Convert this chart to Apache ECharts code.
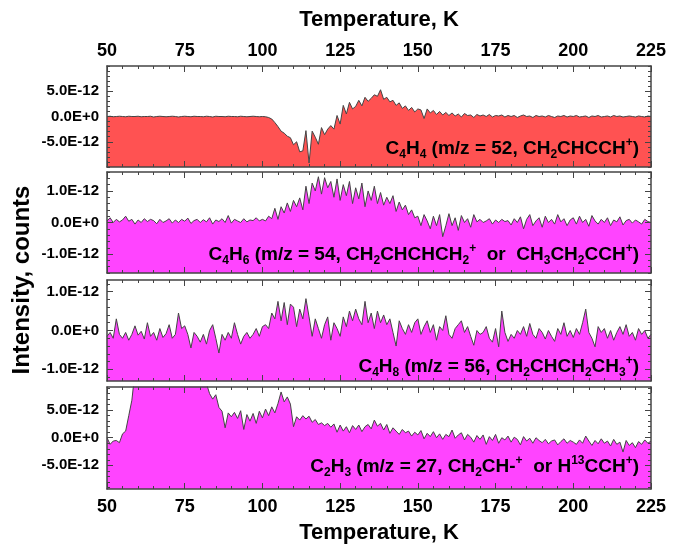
<!DOCTYPE html>
<html>
<head>
<meta charset="utf-8">
<script src="https://cdn.jsdelivr.net/npm/echarts@6/dist/echarts.min.js"></script>
<style>
  html, body { margin: 0; padding: 0; background: #fff; }
  #chart { width: 681px; height: 546px; }
</style>
</head>
<body>
<div id="chart"></div>
<script>
// temperature grid, K (one reading per kelvin)
const tStart = 50
const tStep = 1

// intensities in units of 1E-12 counts, one value per kelvin from 50 K
const c4h4 = [
  0.0, 0.05, -0.05, 0.0, 0.05, 0.0, -0.05, 0.05, 0.0, 0.0,
  0.05, -0.05, 0.0, 0.0, 0.05, -0.1, 0.0, 0.05, 0.0, -0.05,
  0.0, 0.05, 0.0, -0.1, 0.0, 0.05, 0.0, -0.05, 0.05, 0.0,
  0.0, -0.05, 0.05, 0.0, -0.1, 0.05, 0.0, 0.0, -0.05, 0.05,
  0.0, 0.0, -0.05, 0.05, 0.0, -0.05, 0.0, 0.05, 0.0, -0.05,
  0.0, -0.05, -0.2, -0.5, -1.2, -2.0, -2.9, -3.3, -3.9, -4.2,
  -5.6, -5.0, -7.0, -6.8, -2.8, -9.2, -2.9, -4.1, -5.5, -2.2,
  -3.6, -2.5, -1.8, -2.5, 0.2, -1.5, 2.2, 0.5, 2.8, 1.5,
  2.0, 3.2, 2.1, 3.8, 3.0, 3.6, 4.3, 4.0, 5.3, 3.4,
  3.8, 2.9, 3.2, 2.2, 2.7, 1.6, 2.1, 1.2, 1.8, 0.9,
  1.5, 1.3, -0.4, 1.5, 0.7, 1.2, 0.4, 1.0, 0.3, 0.8,
  0.2, 0.7, 0.1, 0.5, -0.1, 0.6, 0.2, 0.3, -0.2, 0.4,
  0.1, 0.3, 0.0, 0.4, -0.1, 0.2, 0.1, 0.3, -0.1, 0.2,
  0.0, 0.2, -0.2, 0.1, 0.3, 0.0, 0.1, -0.2, 0.2, 0.0,
  0.1, -0.1, 0.2, 0.0, -0.2, 0.1, 0.0, 0.2, -0.1, 0.1,
  0.0, 0.2, -0.1, 0.0, 0.1, -0.2, 0.1, 0.0, 0.2, -0.1,
  0.0, 0.1, -0.1, 0.2, 0.0, 0.1, -0.1, 0.0, 0.1, 0.0,
  -0.1, 0.1, 0.0, -0.1, 0.1, 0.0
]
const c4h6 = [
  0.05, 0.15, 0.0, 0.1, 0.02, 0.08, 0.2, 0.04, 0.1, -0.05,
  0.08, 0.0, 0.12, 0.03, 0.1, 0.06, -0.04, 0.1, 0.0, 0.05,
  0.12, -0.02, 0.08, 0.0, 0.1, 0.04, 0.14, -0.03, 0.06, 0.1,
  0.0, 0.09, 0.02, 0.15, -0.05, 0.08, 0.03, 0.12, 0.0, 0.22,
  -0.02, 0.1, 0.05, 0.0, 0.12, 0.02, 0.08, 0.06, 0.15, 0.05,
  0.1, 0.05, 0.2, 0.12, 0.45, 0.1, 0.5, 0.3, 0.62, 0.35,
  0.7, 0.5, 0.78, 0.4, 1.15, 0.6, 1.25, 1.0, 1.45, 0.9,
  1.42, 1.1, 1.3, 0.8, 1.38, 0.7, 1.2, 0.85, 1.3, 0.6,
  1.1, 0.75, 1.25, 0.5, 1.0, 0.7, 1.15, 0.6, 0.95, 0.55,
  0.8, 0.6, 0.85, 0.35, 0.65, 0.4, 0.55, 0.25, 0.4, 0.15,
  0.2, -0.1, 0.25, 0.05, -0.2, 0.2, -0.1, 0.25, -0.45, -0.1,
  0.28, -0.1, 0.15, -0.25, 0.22, 0.0, 0.12, -0.15, 0.25, 0.02,
  0.1, 0.0, 0.05, 0.12, -0.05, 0.08, 0.0, 0.1, 0.03, 0.06,
  -0.08, 0.12, 0.0, 0.18, -0.2, 0.1, 0.25, -0.1, 0.05, 0.15,
  -0.15, 0.2, 0.0, 0.1, -0.05, 0.25, 0.02, 0.12, -0.1, 0.08,
  0.15, -0.05, 0.2, 0.0, 0.1, -0.12, 0.22, 0.05, -0.05, 0.1,
  0.0, 0.15, -0.1, 0.08, 0.02, 0.18, -0.08, 0.06, 0.1, -0.02,
  0.08, 0.02, -0.05, 0.1, 0.03, 0.0
]
const c4h8 = [
  -0.15, -0.05, -0.2, 0.3, -0.1, -0.2, -0.05, -0.25, -0.1, 0.12,
  -0.12, -0.02, -0.22, 0.2, -0.15, -0.05, -0.25, 0.05, -0.18, -0.08,
  0.15, -0.2, -0.1, 0.45, 0.05, 0.12, -0.1, -0.45, -0.05, -0.15,
  -0.3, -0.1, -0.35, 0.0, 0.15, -0.2, -0.58, -0.1, -0.25, -0.05,
  -0.2, 0.2, -0.1, -0.35, -0.15, -0.05, -0.2, -0.1, 0.05, -0.15,
  0.1, 0.15, 0.05, 0.45, 0.3, 0.75, 0.25, 0.72, 0.15, 0.68,
  0.6, 0.1, 0.55, 0.3, 0.82, 0.35, -0.15, 0.3, 0.05, -0.2,
  0.15, 0.35, -0.25, 0.2, 0.05, -0.15, 0.35, 0.1, 0.5, 0.25,
  0.55, 0.3, 0.15, 0.75, 0.2, 0.45, 0.05, 0.5, 0.2, 0.4,
  0.15, 0.3, -0.05, -0.4, 0.25, 0.05, -0.1, 0.15, -0.05, 0.2,
  0.3, -0.1, 0.1, 0.25, -0.05, 0.15, -0.25, 0.1, 0.0, 0.38,
  -0.1, -0.2, 0.05, 0.15, 0.25, -0.05, 0.1, -0.15, -0.38, 0.0,
  -0.1, -0.05, 0.1, -0.2, -0.3, 0.05, -0.42, 0.5, -0.05, -0.28,
  -0.1, -0.2, 0.0, -0.1, 0.1, -0.15, 0.18, -0.1, -0.2, 0.05,
  -0.05, -0.22, 0.0, -0.15, -0.28, 0.05, -0.1, 0.2, -0.15, 0.0,
  -0.18, 0.05, -0.1, 0.2, 0.55, -0.05, -0.2, -0.42, 0.1, -0.05,
  0.05, -0.2, 0.0, -0.25, -0.05, 0.1, -0.1, 0.15, -0.15, -0.05,
  -0.25, 0.05, -0.1, 0.0, -0.2, -0.1
]
const c2h3 = [
  0.0, -1.2, -0.6, -0.5, -0.9, 0.7, 1.2, 4.0, 6.8, 12.0,
  13.0, 13.5, 14.0, 14.2, 14.5, 14.6, 14.5, 14.3, 14.0, 13.8,
  13.5, 13.3, 13.0, 12.8, 12.5, 12.2, 12.0, 11.6, 11.2, 10.8,
  10.5, 10.2, 9.8, 8.0, 7.0, 7.8, 5.5, 4.8, 1.8, 4.5,
  3.8, 4.6, 3.5, 4.9, 1.5, 4.2, 3.0, 4.4, 2.6, 4.8,
  3.6, 5.2, 4.0, 5.6, 4.5, 6.2, 8.3, 6.5, 7.4, 6.1,
  2.0, 3.8, 3.2, 4.0, 3.4, 3.9, 2.8, 3.3, 2.4, 2.7,
  2.2, 2.6, 1.9, 2.5, 1.0, 2.3, 1.2, 2.0, 0.9, 2.2,
  1.5, 2.3, 1.1, 2.0, 2.4, 1.6, 3.2, 2.1, 2.6, 1.4,
  2.4, 0.8, 1.8, 1.2, 0.6, 1.5, 0.9, 1.2, 0.3, 1.0,
  0.5, 1.3, -0.2, 0.8, 0.2, 1.1, 0.0, 0.7, -0.3, 0.6,
  0.2, 1.4, -0.1, 0.5, 0.9, -0.4, 0.6, 0.1, -0.8, 0.4,
  -0.3, 0.5, -1.2, 0.2, -0.5, 0.6, -1.0, 0.0, -0.4, 0.3,
  -0.8, 0.1, -0.3, -1.3, 0.2, -0.6, -0.1, -1.0, 0.0, -0.5,
  -0.9, -0.3, -1.1, -0.6, -0.4, -1.3, -0.7, -0.2, -1.0, -0.5,
  -0.8, -1.2, -0.4, -1.0, 0.3, -0.6, -1.4, -0.5, -1.1, -0.2,
  -1.0, -0.6, -1.5, -0.3, -1.2, -0.8, -2.6, -0.5, -1.4, -0.9,
  -1.8, -0.7, -1.2, -0.4, -1.0, -0.6
]

const panelData = [c4h4, c4h6, c4h8, c2h3]
const yMin = [-10, -1.6, -1.3, -9.3]
const yMax = [10, 1.6, 1.3, 9.2]
const yMajor = [[-5, 0, 5], [-1, 0, 1], [-1, 0, 1], [-5, 0, 5]]
const yMinorStep = [1, 0.2, 0.2, 1]
const fills = ['#ff5252', '#ff44ff', '#ff44ff', '#ff44ff']
const labels = [
  '{n|C}{s|4}{n|H}{s|4}{n| (m/z = 52, CH}{s|2}{n|CHCCH}{p|+}{n|)}',
  '{n|C}{s|4}{n|H}{s|6}{n| (m/z = 54, CH}{s|2}{n|CHCHCH}{s|2}{p|+}{n|  or  CH}{s|3}{n|CH}{s|2}{n|CCH}{p|+}{n|)}',
  '{n|C}{s|4}{n|H}{s|8}{n| (m/z = 56, CH}{s|2}{n|CHCH}{s|2}{n|CH}{s|3}{p|+}{n|)}',
  '{n|C}{s|2}{n|H}{s|3}{n| (m/z = 27, CH}{s|2}{n|CH-}{p|+}{n|  or H}{p|13}{n|CCH}{p|+}{n|)}'
]

const FONT = '"Liberation Sans", Arial, sans-serif'
const AX = '#444'
const gridTop = [66, 172, 280, 387]
const gridH = [101, 101, 101, 102]
const labelY = [149, 255, 367, 467]

function fmtY (v) {
  if (Math.abs(v) < 1e-9) return '0.0E+0'
  return v.toFixed(1) + 'E-12'
}

var grids = [], xAxes = [], yAxes = [], series = [], graphics = []

for (var i = 0; i < 4; i++) {
  grids.push({ left: 107, right: 30, top: gridTop[i], height: gridH[i] })

  ;['bottom', 'top'].forEach(function (pos) {
    var showLab = (pos === 'top' && i === 0) || (pos === 'bottom' && i === 3)
    xAxes.push({
      type: 'value', gridIndex: i, position: pos, min: 50, max: 225, interval: 25, z: 5,
      name: showLab ? 'Temperature, K' : '', nameLocation: 'middle', nameGap: pos === 'top' ? 35 : 33,
      nameTextStyle: { fontFamily: FONT, fontWeight: 'bold', fontSize: 22, color: '#000' },
      axisLine: { show: true, onZero: false, lineStyle: { color: AX, width: 1.5 } },
      axisTick: { inside: true, length: 6, lineStyle: { color: AX } },
      minorTick: { show: true, splitNumber: 5, length: 3, lineStyle: { color: AX } },
      splitLine: { show: false },
      axisLabel: { show: showLab, margin: pos === 'top' ? 6 : 9, fontFamily: FONT, fontWeight: 'bold', fontSize: 18, color: '#000' }
    })
  })

  var minors = []
  var k0 = Math.ceil(yMin[i] / yMinorStep[i] - 1e-6), k1 = Math.floor(yMax[i] / yMinorStep[i] + 1e-6)
  for (var k = k0; k <= k1; k++) minors.push(+(k * yMinorStep[i]).toFixed(3))

  ;['left', 'right'].forEach(function (pos) {
    yAxes.push({
      type: 'value', gridIndex: i, position: pos, min: yMin[i], max: yMax[i], z: 5,
      axisLine: { show: true, onZero: false, lineStyle: { color: AX, width: 1.5 } },
      axisTick: { show: true, inside: true, length: 6, customValues: yMajor[i], lineStyle: { color: AX } },
      splitLine: { show: false },
      axisLabel: {
        show: pos === 'left', customValues: yMajor[i], formatter: fmtY, margin: 8,
        fontFamily: FONT, fontWeight: 'bold', fontSize: 15, color: '#000'
      }
    })
  })
  ;['left', 'right'].forEach(function (pos) {
    yAxes.push({
      type: 'value', gridIndex: i, position: pos, min: yMin[i], max: yMax[i], z: 5,
      axisLine: { show: false, onZero: false },
      axisTick: { show: true, inside: true, length: 3, customValues: minors, lineStyle: { color: AX } },
      splitLine: { show: false },
      axisLabel: { show: false }
    })
  })

  var pts = panelData[i].map(function (v, j) { return [tStart + j * tStep, v] })
  series.push({
    type: 'line', xAxisIndex: 2 * i, yAxisIndex: 4 * i, data: pts,
    showSymbol: false, symbol: 'none', clip: true, animation: false,
    lineStyle: { color: '#444', width: 1 },
    areaStyle: { color: fills[i], opacity: 1, origin: 'start' }
  })

  graphics.push({
    type: 'text', x: 639, y: labelY[i], z: 10,
    style: {
      text: labels[i], align: 'right', verticalAlign: 'middle',
      rich: {
        n: { fontFamily: FONT, fontWeight: 'bold', fontSize: 19, lineHeight: 24, fill: '#000' },
        s: { fontFamily: FONT, fontWeight: 'bold', fontSize: 12, lineHeight: 12, verticalAlign: 'bottom', fill: '#000' },
        p: { fontFamily: FONT, fontWeight: 'bold', fontSize: 12, lineHeight: 12, verticalAlign: 'top', fill: '#000' }
      }
    }
  })
}

graphics.push({
  type: 'text', x: 22, y: 280, rotation: Math.PI / 2,
  style: {
    text: 'Intensity, counts', align: 'center', verticalAlign: 'middle',
    fontFamily: FONT, fontWeight: 'bold', fontSize: 24, fill: '#000'
  }
})

var myChart = echarts.init(document.getElementById('chart'))
myChart.setOption({
  animation: false,
  backgroundColor: '#fff',
  grid: grids,
  xAxis: xAxes,
  yAxis: yAxes,
  series: series,
  graphic: graphics
})
</script>
</body>
</html>
